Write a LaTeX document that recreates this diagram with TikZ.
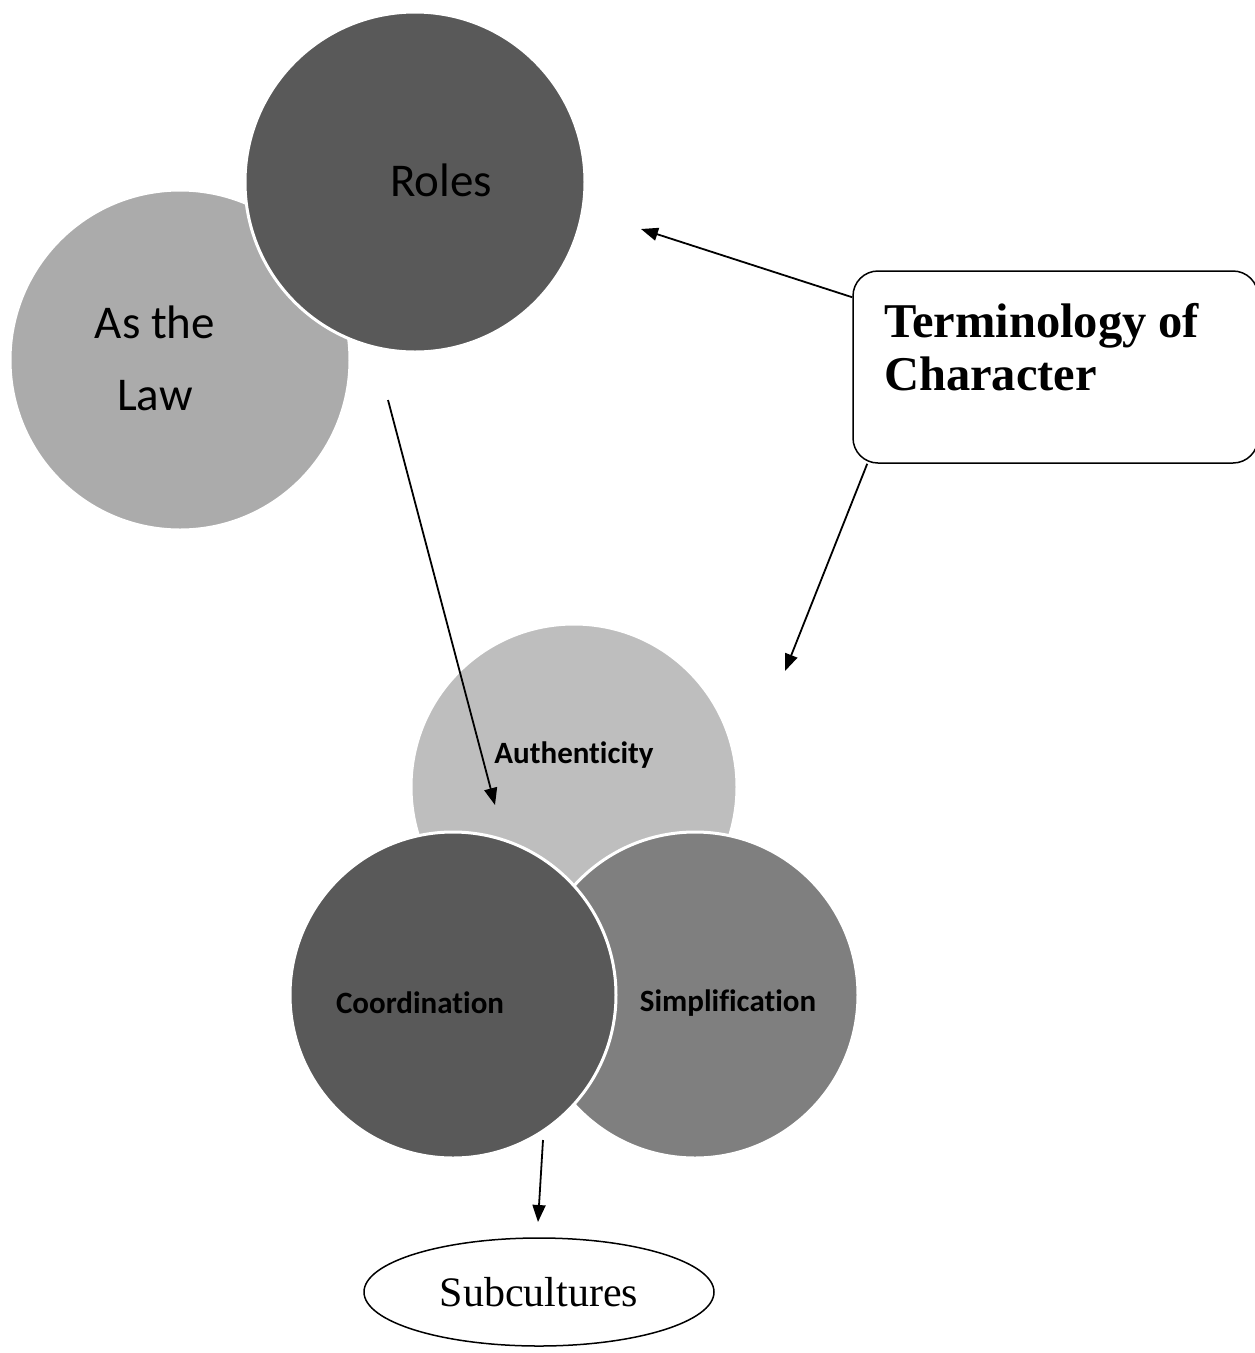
\documentclass[tikz,border=0pt]{standalone}
\usepackage{fontspec}
\setmainfont{Liberation Serif}
\newfontfamily\bubblefont[Ligatures=NoCommon]{Carlito}
\usetikzlibrary{arrows.meta, shapes.geometric, positioning}

\definecolor{darkgrey}{HTML}{595959}
\definecolor{midgrey}{HTML}{7F7F7F}
\definecolor{lightgrey}{HTML}{ABABAB}
\definecolor{palegrey}{HTML}{BEBEBE}

\begin{document}
\begin{tikzpicture}[x=1pt,y=-1pt,
		bubble/.style={circle, draw=white, line width=3pt, inner sep=0pt},
		bigtext/.style={font=\bubblefont\fontsize{47}{72}\selectfont, align=center, inner sep=0pt},
		smalltext/.style={font=\bubblefont\bfseries\fontsize{31}{36}\selectfont, inner sep=0pt},
		link/.style={line width=1.8pt, -{Triangle[length=17pt,width=13pt]}},
		termbox/.style={draw, line width=1.5pt, rounded corners=25pt, minimum width=405pt, minimum height=192pt}
	]
	
	% Page frame
	\useasboundingbox (0,0) rectangle (1255,1353);
	
	% Top pair of circles
	\node[bubble, fill=lightgrey, minimum size=340pt,
	label={[bigtext, xshift=-25pt, yshift=2pt]center:{As the\\Law}}] (law) at (180,360) {};
	\node[bubble, fill=darkgrey, minimum size=340pt,
	label={[bigtext, xshift=26pt, yshift=2pt]center:Roles}] (roles) at (415,182) {};
	
	% Bottom group of three circles
	\node[bubble, fill=palegrey, minimum size=326pt,
	label={[smalltext, yshift=32pt]center:Authenticity}] (auth) at (574,787) {};
	\node[bubble, fill=midgrey, minimum size=326pt,
	label={[smalltext, xshift=33pt, yshift=-8pt]center:Simplification}] (simp) at (695,995) {};
	\node[bubble, fill=darkgrey, minimum size=326pt,
	label={[smalltext, xshift=-33pt, yshift=-8pt]center:Coordination}] (coord) at (453,995) {};
	
	% Terminology box (runs past the right edge)
	\node[termbox] (term) at (1055.5,367) {};
	\node[anchor=north west, inner sep=0pt, align=left,
	font=\bfseries\fontsize{48.5}{53}\selectfont] (termtext) at (884,303) {Terminology of\\Character};
	
	% Subcultures ellipse
	\node[ellipse, draw, line width=1.5pt, minimum width=350pt, minimum height=108pt,
	font=\fontsize{42}{48}\selectfont] (sub) at (539,1292) {Subcultures};
	
	% Free arrow ends
	\coordinate (rolestip) at (641,229);
	\coordinate (authtip) at (785,671);
	\coordinate (rolestail) at (388,400);
	\coordinate (coordtip) at (495,805);
	\coordinate (coordtail) at (543,1140);
	\coordinate (subtip) at (538,1222);
	
	% Arrows
	\draw[link] ([yshift=-27pt]term.north west) -- (rolestip);
	\draw[link] ([xshift=15pt]term.south west) -- (authtip);
	\draw[link] (rolestail) -- (coordtip);
	\draw[link] (coordtail) -- (subtip);
	
\end{tikzpicture}
\end{document}
